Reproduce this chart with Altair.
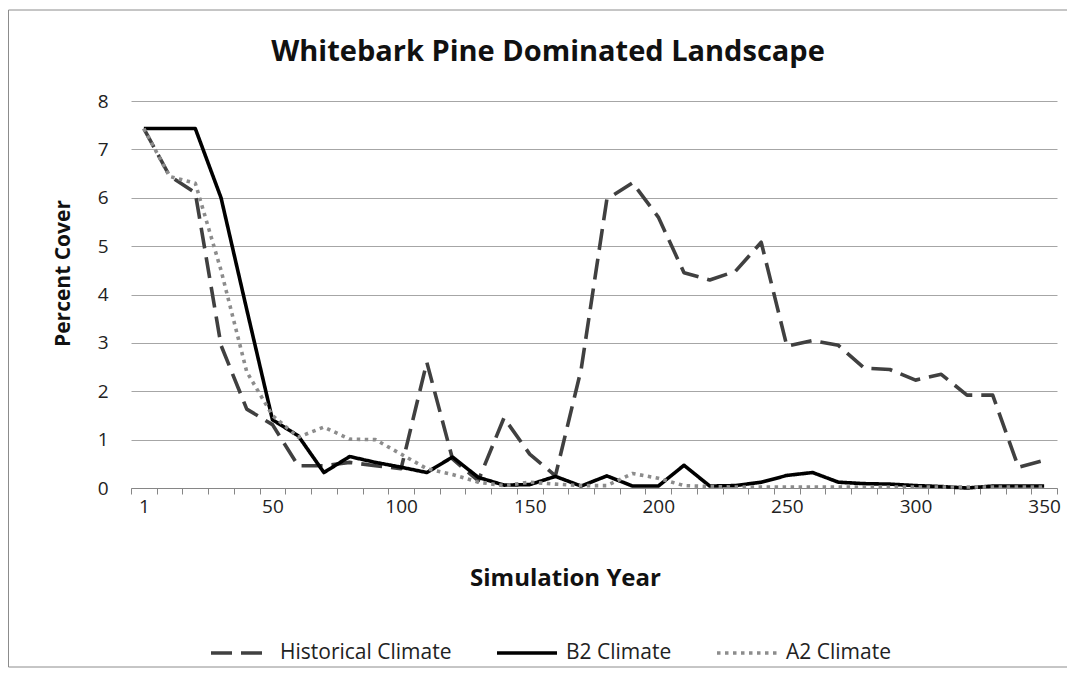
import altair as alt
import pandas as pd

chart_title = "Whitebark Pine Dominated Landscape"

years = ["1", "10", "20", "30", "40", "50", "60", "70", "80", "90", "100", "110",
         "120", "130", "140", "150", "160", "170", "180", "190", "200", "210",
         "220", "230", "240", "250", "260", "270", "280", "290", "300", "310",
         "320", "330", "340", "350"]

historical = [7.43, 6.45, 6.10, 2.95, 1.63, 1.31, 0.46, 0.46, 0.53, 0.46, 0.40, 2.60,
              0.60, 0.15, 1.45, 0.70, 0.25, 2.45, 5.97, 6.31, 5.60, 4.45,
              4.30, 4.48, 5.08, 2.93, 3.05, 2.95, 2.48, 2.45, 2.23, 2.35,
              1.92, 1.92, 0.43, 0.57]

b2 = [7.43, 7.43, 7.43, 6.00, 3.69, 1.41, 1.08, 0.32, 0.65, 0.53, 0.43, 0.32,
      0.64, 0.22, 0.06, 0.07, 0.24, 0.04, 0.25, 0.04, 0.04, 0.47,
      0.04, 0.05, 0.12, 0.26, 0.32, 0.12, 0.09, 0.08, 0.05, 0.03,
      0.00, 0.04, 0.04, 0.04]

a2 = [7.43, 6.44, 6.30, 4.50, 2.40, 1.50, 1.05, 1.26, 1.01, 1.00, 0.70, 0.40,
      0.28, 0.12, 0.05, 0.12, 0.08, 0.05, 0.05, 0.30, 0.20, 0.05,
      0.03, 0.02, 0.02, 0.02, 0.02, 0.02, 0.02, 0.02, 0.02, 0.02,
      0.02, 0.02, 0.02, 0.02]

series_names = ["Historical Climate", "B2 Climate", "A2 Climate"]
series_colors = ["#404040", "#000000", "#8c8c8c"]
series_dashes = [[21, 9], [1, 0], [3.5, 4.5]]
x_labels = ["1", "50", "100", "150", "200", "250", "300", "350"]
y_ticks = [0, 1, 2, 3, 4, 5, 6, 7, 8]

rows = []
for name, vals in zip(series_names, [historical, b2, a2]):
    for yr, v in zip(years, vals):
        rows.append({"Year": yr, "Percent Cover": v, "Series": name})
df = pd.DataFrame(rows)

FONT = "Open Sans"
label_expr = "indexof(" + str(x_labels) + ", datum.label) >= 0 ? datum.label : ''"

legend_kw = dict(
    orient="none", legendX=78, legendY=520, direction="horizontal", title=None,
    symbolType="stroke", symbolSize=3600, symbolStrokeWidth=3.5,
    labelFont=FONT, labelFontSize=21, labelColor="#222222", labelOffset=7,
    columnPadding=38, labelLimit=0,
)

lines = alt.Chart(df).mark_line(strokeWidth=3.6, strokeCap="butt", strokeJoin="round").encode(
    x=alt.X("Year:N", sort=years,
            scale=alt.Scale(type="band", paddingInner=0, paddingOuter=0),
            axis=alt.Axis(title="Simulation Year", titleFont=FONT, titleFontSize=24,
                          titleFontWeight="bold", titleColor="#111111",
                          titleX=434, titleY=90, titleAlign="center", titleBaseline="middle",
                          labelAngle=0, labelExpr=label_expr, labelFont=FONT,
                          labelFontSize=19, labelColor="#222222", labelPadding=3,
                          labelOverlap=False, labelFlush=False,
                          tickBand="extent", tickSize=6, tickColor="#868686",
                          domainColor="#868686", grid=False)),
    y=alt.Y("Percent Cover:Q", scale=alt.Scale(domain=[0, 8], nice=False, zero=True),
            axis=alt.Axis(values=y_ticks, title="Percent Cover", titleFont=FONT,
                          titleFontSize=21, titleFontWeight="bold", titleColor="#111111",
                          titleX=-68, titleY=172, titleAngle=270, titleAlign="center",
                          titleBaseline="middle", labelFont=FONT, labelFontSize=19,
                          labelColor="#222222", labelPadding=23, domain=False, ticks=False,
                          grid=True, gridColor="#a6a6a6", gridWidth=1)),
    color=alt.Color("Series:N", sort=series_names,
                    scale=alt.Scale(domain=series_names, range=series_colors),
                    legend=alt.Legend(**legend_kw)),
    strokeDash=alt.StrokeDash("Series:N", sort=series_names,
                              scale=alt.Scale(domain=series_names, range=series_dashes),
                              legend=alt.Legend(**legend_kw)),
)

title_mark = alt.Chart(alt.Data(values=[{"t": chart_title}])).mark_text(
    font=FONT, fontSize=29, fontWeight="bold", color="#111111",
    align="center", baseline="middle"
).encode(text="t:N", x=alt.value(417), y=alt.value(-49))

frame_data = alt.Data(values=[{"b": 1}])
frame_style = dict(color="#8c8c8c", strokeWidth=1, clip=False)
frame_top = alt.Chart(frame_data).mark_rule(**frame_style).encode(
    x=alt.value(-122.5), x2=alt.value(936), y=alt.value(-91), y2=alt.value(-91))
frame_left = alt.Chart(frame_data).mark_rule(**frame_style).encode(
    x=alt.value(-122.5), x2=alt.value(-122.5), y=alt.value(-91), y2=alt.value(566))
frame_bottom = alt.Chart(frame_data).mark_rule(**frame_style).encode(
    x=alt.value(-122.5), x2=alt.value(936), y=alt.value(566), y2=alt.value(566))

chart = alt.layer(frame_top, frame_left, frame_bottom, title_mark, lines).properties(
    width=926, height=387,
    autosize=alt.AutoSizeParams(type="none"),
    padding={"left": 123, "top": 93, "right": 10, "bottom": 180},
    background="white",
).configure_view(strokeWidth=0)

chart.save("out.html", embed_options={"renderer": "svg", "actions": False})
